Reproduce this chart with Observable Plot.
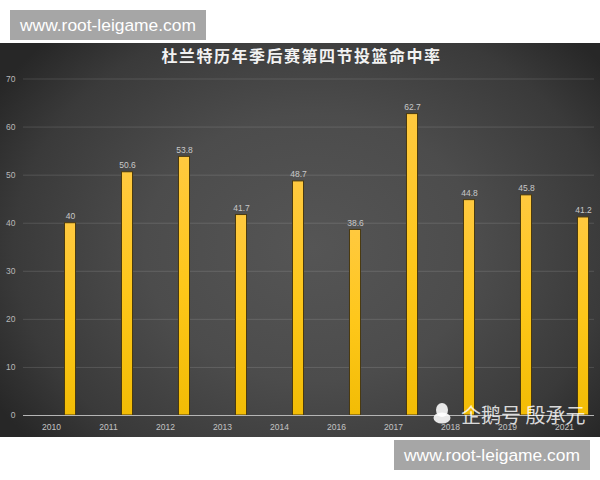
<!DOCTYPE html>
<html><head><meta charset="utf-8">
<script src="https://cdn.jsdelivr.net/npm/d3@7"></script>
<script src="https://cdn.jsdelivr.net/npm/@observablehq/plot@0.6"></script>
<style>
html,body{margin:0;padding:0;background:#fff;}
#wrap{position:relative;width:600px;height:480px;overflow:hidden;}
#chart{position:absolute;left:0;top:43px;width:600px;height:394px;background:radial-gradient(ellipse 62% 75% at 52% 52%,#555 0%,#4c4c4c 45%,#3a3a3a 80%,#272727 100%);}
#chart svg{display:block;background:transparent;}
.title{position:absolute;left:0;width:603px;top:44px;text-align:center;color:#f2f2f2;font:bold 16px "Noto Sans CJK SC";letter-spacing:1.5px;line-height:22px;}
.box{position:absolute;width:196px;height:30px;background:#a6a6a6;color:#fff;font:17.4px/30px "Liberation Sans";text-align:center;}
.mark{position:absolute;left:461px;top:400px;color:rgba(255,255,255,.82);font:20px/30px "Noto Sans CJK SC";white-space:nowrap;}
.peng{position:absolute;left:432px;top:403px;}
</style></head><body>
<div id="wrap">
<div id="chart"></div>
<div class="title">杜兰特历年季后赛第四节投篮命中率</div>
<div class="box" style="left:10px;top:10px">www.root-leigame.com</div>
<div class="box" style="left:394px;top:440px">www.root-leigame.com</div>
<svg class="peng" width="20" height="22" viewBox="0 0 20 22"><ellipse cx="10" cy="7" rx="6" ry="7" fill="rgba(255,255,255,.88)"/><ellipse cx="10" cy="15" rx="8.5" ry="5.5" fill="rgba(255,255,255,.88)"/></svg>
<div class="mark">企鹅号 殷承元</div>
</div>
<script>
const years = ["2010","2011","2012","2013","2014","2016","2017","2018","2019","2021"];
const rates = [40,50.6,53.8,41.7,48.7,38.6,62.7,44.8,45.8,41.2];
const labels = ["40","50.6","53.8","41.7","48.7","38.6","62.7","44.8","45.8","41.2"];
const yTicks = [0,10,20,30,40,50,60,70];
const rows = years.map((y,i)=>({year:y,rate:rates[i],label:labels[i]}));
const font = "Liberation Sans";
const plot = Plot.plot({
  width:600,height:394,
  marginLeft:23,marginRight:6,marginTop:35.5,marginBottom:22,
  style:{background:"transparent",fontFamily:font},
  x:{domain:years,range:[64.5,588.5],paddingInner:0.807,paddingOuter:0,round:false,label:null},
  y:{domain:[0,70],label:null},
  marks:[
    Plot.gridY(yTicks,{stroke:"#fff",strokeOpacity:0.13,strokeWidth:1}),
    Plot.axisX({tickSize:0,tickPadding:8,fontSize:8.5,color:"#c4c4c4",label:null,anchor:"bottom",dx:-19}),
    Plot.axisY(yTicks,{tickSize:0,tickPadding:8,fontSize:8.5,color:"#b8b8b8",label:null,anchor:"left"}),
    Plot.barY(rows,{x:"year",y:"rate",fill:"url(#barGrad)",stroke:"#4a3a10",strokeWidth:1}),
    Plot.text(rows,{x:"year",y:"rate",text:"label",dy:-7,fontSize:8.5,fill:"#c8c8c8"}),
    Plot.ruleY([0],{stroke:"#b5b5b5",strokeWidth:1})
  ]
});
const ns="http://www.w3.org/2000/svg";
const defs=document.createElementNS(ns,"defs");
defs.innerHTML='<linearGradient id="barGrad" x1="0" y1="0" x2="0" y2="1"><stop offset="0" stop-color="#ffc93f"/><stop offset="0.5" stop-color="#fec71a"/><stop offset="1" stop-color="#f2bc05"/></linearGradient>';
plot.insertBefore(defs,plot.firstChild);
document.getElementById("chart").appendChild(plot);
</script>
</body></html>
